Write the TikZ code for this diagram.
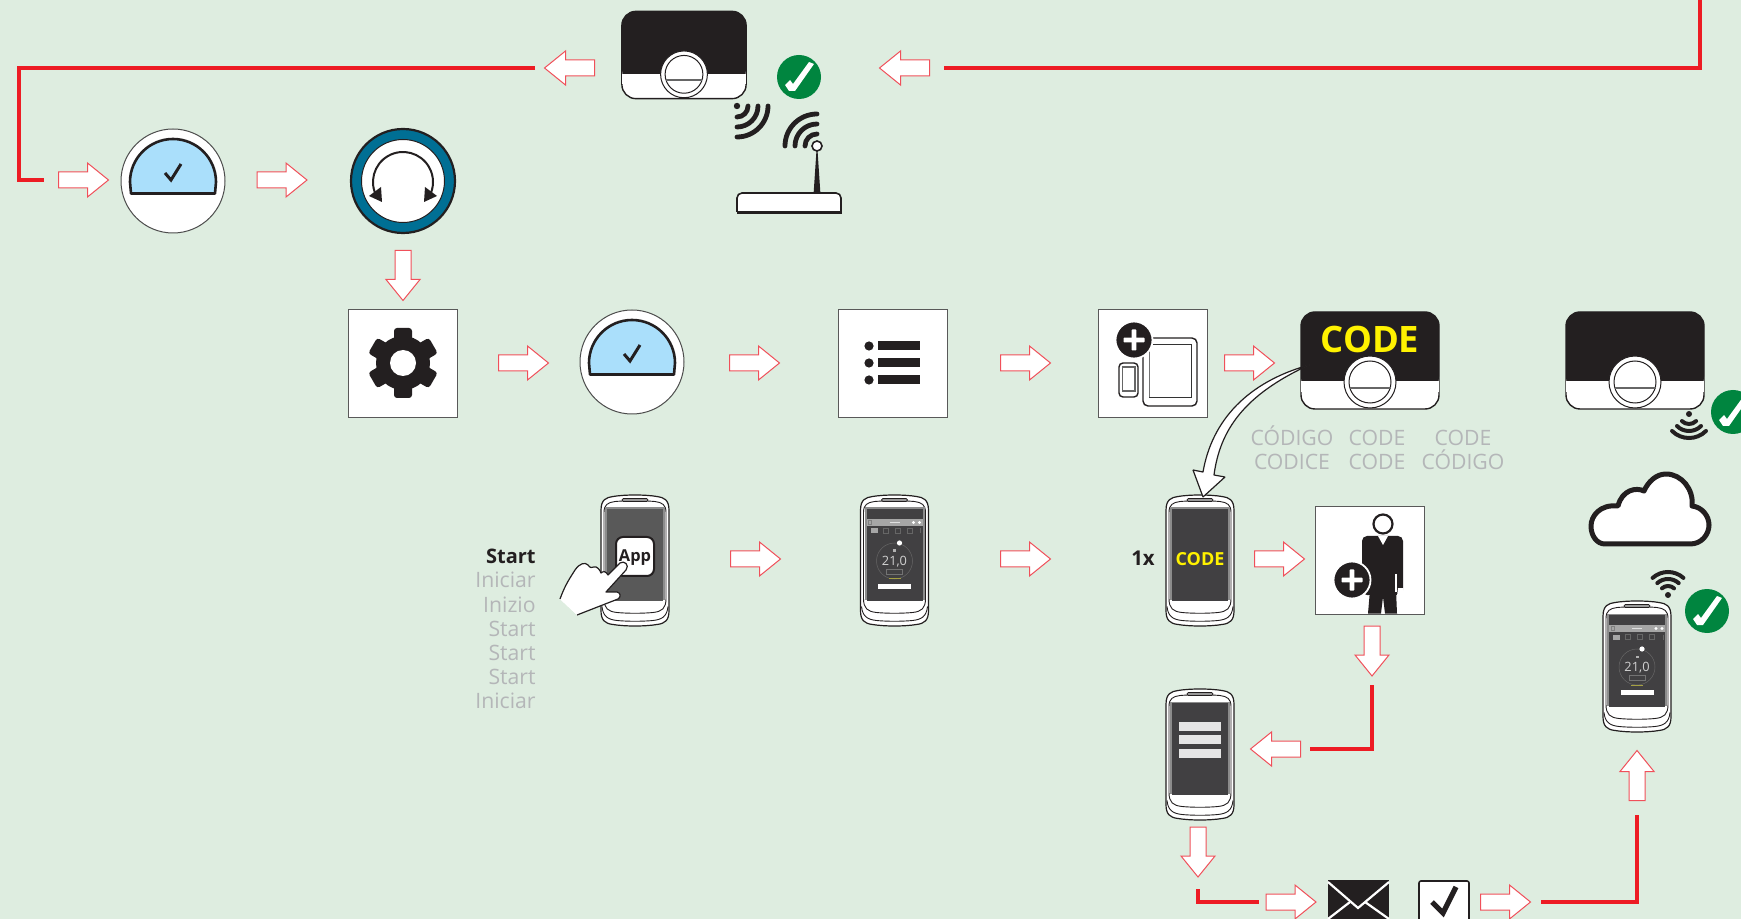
\documentclass[tikz,border=0pt]{standalone}
\usepackage{fontspec}
\setmainfont{Open Sans}
\definecolor{bgc}{HTML}{DEEDE0}
\definecolor{redl}{HTML}{ED1C24}
\definecolor{reda}{HTML}{F0505A}
\definecolor{ink}{HTML}{231F20}
\definecolor{greyt}{HTML}{B4B6B8}
\definecolor{dialb}{HTML}{AADFFB}
\definecolor{ringb}{HTML}{006F94}
\definecolor{okg}{HTML}{00853F}
\definecolor{scr}{HTML}{414042}
\definecolor{codey}{HTML}{FFF200}
\tikzset{
 redline/.style={draw=redl,line width=1.7pt},
 sq/.style={draw=black!65,fill=white,line width=0.45pt},
 wave/.style={draw=ink,line width=2.4pt,line cap=round},
 gtext/.style={text=greyt,font=\fontsize{10.6}{12}\selectfont,inner sep=0pt},
 pics/barrow/.style={code={
   \draw[draw=reda,fill=white,line width=0.5pt,line join=miter]
     (-25,-8) -- (4,-8) -- (4,-17) -- (25,0) -- (4,17) -- (4,8) -- (-25,8) -- cycle;}},
 pics/okmark/.style={code={
   \fill[okg] (0,0) circle[radius=22];
   \fill[white] (-14,8) -- (-9,3) -- (-6,7) -- (10,-15) -- (15,-13) -- (-4,14) -- (-10,14) -- cycle;}},
 pics/gauge/.style={code={
   \draw[fill=white,draw=black!70,line width=0.5pt] (0,0) circle[radius=52];
   \draw[fill=dialb,draw=ink,line width=1.3pt,line join=round]
     (-42,12.5) -- (-43,1) arc[start angle=180,end angle=360,radius=43] -- (42,12.5) -- cycle;
   \draw[ink,line width=1.5pt] (-8,-8) -- (-2,-1) -- (8,-17);}},
 pics/thermo/.style={code={
   \draw[fill=white,draw=ink,line width=0.7pt,rounded corners=7pt] (-69,-48.5) rectangle (69,48.5);
   \fill[ink,rounded corners=7pt] (-69,30) -- (-69,-48.5) -- (69,-48.5) -- (69,30) -- cycle;
   \fill[white] (-68.6,21) rectangle (68.6,32);
   \draw[fill=white,draw=ink,line width=0.5pt] (0,21.5) circle[radius=26];
   \draw[draw=ink,line width=0.5pt] (0,21.5) circle[radius=21];
   \draw[draw=black!60,line width=0.8pt] (-20.5,27.5) -- (20.5,27.5);}},
 pics/phonebody/.style={code={
   \draw[fill=white,draw=ink,line width=0.6pt]
     (-34,-50) .. controls (-34,-61) and (-29,-63) .. (-22,-64) .. controls (-10,-66) and (10,-66) .. (22,-64)
     .. controls (29,-63) and (34,-61) .. (34,-50) -- (34,50) .. controls (34,60) and (30,63) .. (22,64)
     .. controls (10,66) and (-10,66) .. (-22,64) .. controls (-30,63) and (-34,60) .. (-34,50) -- cycle;
   \draw[fill=white,draw=ink,line width=0.45pt]
     (-31,-48) .. controls (-31,-56) and (-27,-58) .. (-20,-59) .. controls (-8,-60) and (8,-60) .. (20,-59)
     .. controls (27,-58) and (31,-56) .. (31,-48) -- (31,38) .. controls (31,48) and (27,51) .. (18,52)
     .. controls (8,53) and (-8,53) .. (-18,52) .. controls (-27,51) and (-31,48) .. (-31,38) -- cycle;
   \draw[ink,line width=0.45pt] (-33,46) .. controls (-32,56) and (-27,59) .. (-18,60) .. controls (-8,61) and (8,61) .. (18,60)
     .. controls (27,59) and (32,56) .. (33,46);
   \draw[fill=black!40,draw=ink,line width=0.4pt,rounded corners=0.7pt] (-13,-62) rectangle (13,-59);
   \fill[black!45] (-30,-53) rectangle (30,39);
   \fill[scr] (-28,-51.5) rectangle (28,40.5);}},
 pics/appscreen/.style={code={
   \fill[black!35] (-28,-41.5) rectangle (28,-34.5);
   \draw[black!12,line width=0.3pt] (-5,-38) -- (5,-38);
   \fill[white] (19,-38) circle[radius=1.6] (25,-38) circle[radius=1.6];
   \draw[black!50,line width=0.25pt] (-26,-40) rectangle (-23,-36);
   \fill[black!35] (-24,-32) rectangle (-17,-27);
   \foreach \xx in {-9,3,15}{\draw[black!60,line width=0.25pt] (\xx-2.5,-32) rectangle (\xx+2.5,-27);}
   \draw[black!60,line width=0.25pt] (26,-32) -- (26,-27);
   \draw[black!60,line width=0.25pt] (0,0.5) circle[radius=18];
   \fill[white] (5,-17.5) circle[radius=2.6];
   \fill[black!30] (-1.5,-11) rectangle (1.5,-8.5);
   \node[inner sep=0pt,text=black!18,font=\fontsize{6.4}{7}\selectfont] at (0,1) {21,0};
   \draw[black!55,line width=0.25pt] (-8,9) rectangle (8,13.5);
   \draw[yellow!60!black,line width=0.5pt] (-6,18.5) -- (6,18.5);
   \fill[white] (-16.5,23.5) rectangle (16.5,28.5);}},
 pics/plusdisc/.style={code={
   \draw[fill=ink,draw=white,line width=0.9pt] (0,0) circle[radius=18.5];
   \fill[white,rounded corners=0.4pt] (-10.5,-2.4) rectangle (10.5,2.4);
   \fill[white,rounded corners=0.4pt] (-2.4,-10.5) rectangle (2.4,10.5);}},
}
\begin{document}
\begin{tikzpicture}[x=0.5pt,y=-0.5pt]
\useasboundingbox (0,0) rectangle (1741,919);
\clip (0,0) rectangle (1741,919);
\fill[bgc] (0,0) rectangle (1741,919);

% ---- red connector ends
\coordinate (a1) at (535,68); \coordinate (a2) at (19,68); \coordinate (a3) at (19,180); \coordinate (a4) at (44,180);
\coordinate (b1) at (944,68); \coordinate (b2) at (1700,68); \coordinate (b3) at (1700,0);
\coordinate (c1) at (1372,685); \coordinate (c2) at (1372,749); \coordinate (c3) at (1310,749);
\coordinate (d1) at (1198,889); \coordinate (d2) at (1198,902); \coordinate (d3) at (1259,902);
\coordinate (e1) at (1541,902); \coordinate (e2) at (1637,902); \coordinate (e3) at (1637,815);
\draw[redline] (a1) -- (a2) -- (a3) -- (a4);
\draw[redline] (b1) -- (b2) -- (b3);
\draw[redline] (c1) -- (c2) -- (c3);
\draw[redline] (d1) -- (d2) -- (d3);
\draw[redline] (e1) -- (e2) -- (e3);

% ---- block arrows
\pic[rotate=180] at (569.5,68) {barrow};
\pic[rotate=180] at (904.5,68) {barrow};
\pic at (83.5,180) {barrow};
\pic at (282,180) {barrow};
\pic[rotate=-90] at (403,275.5) {barrow};
\pic at (523.5,363) {barrow};
\pic at (754.5,363) {barrow};
\pic at (1025.5,363) {barrow};
\pic at (1249.5,363) {barrow};
\pic at (755.5,559) {barrow};
\pic at (1025.5,559) {barrow};
\pic at (1279.5,559) {barrow};
\pic[rotate=-90] at (1372,651) {barrow};
\pic[rotate=180] at (1275.5,749) {barrow};
\pic[rotate=-90] at (1198,852) {barrow};
\pic at (1291,902) {barrow};
\pic at (1505.5,902) {barrow};
\pic[rotate=90] at (1637,775.5) {barrow};

% ---- top thermostat, router
\pic[scale=0.9] at (684,55) {thermo};
\pic at (799,77) {okmark};
\fill[ink] (737,106) circle[radius=3.2];
\foreach \r in {11,21,31}{\draw[wave] (737,106) ++(0:\r) arc[start angle=0,end angle=90,radius=\r];}
\foreach \r in {12,22,32}{\draw[wave] (817,146) ++(180:\r) arc[start angle=180,end angle=270,radius=\r];}
\fill[ink] (813.5,195) -- (820.5,195) -- (817.5,150) -- (816.5,150) -- cycle;
\draw[fill=white,draw=ink,line width=0.8pt] (817,146) circle[radius=5];
\draw[fill=white,draw=ink,line width=0.8pt,rounded corners=2.5pt] (737,212) -- (737,193) -- (841,193) -- (841,212);
\draw[ink,line width=1.1pt] (736.5,212.5) -- (841.5,212.5);

% ---- gauges, dial, gear
\pic at (173,181) {gauge};
\draw[fill=ringb,draw=ink,line width=1.1pt] (403,181) circle[radius=52];
\draw[fill=white,draw=ink,line width=0.5pt] (403,181) circle[radius=41.5];
\draw[ink,line width=1pt] (403,182) ++(150:30) arc[start angle=150,end angle=390,radius=30];
\fill[ink] (369,196) -- (381,187) -- (382,202) -- cycle;
\fill[ink] (437,196) -- (425,187) -- (424,202) -- cycle;

\node[sq,minimum width=54.5pt,minimum height=54pt,inner sep=0pt] (gearbox) at (402.5,363) {};
\fill[ink] (403,363) circle[radius=27];
\foreach \a in {0,60,...,300}{\fill[ink,rounded corners=1.5pt,rotate around={\a:(403,363)}] (394,345) rectangle (412,328);}
\fill[white] (403,363) circle[radius=13];

\pic at (632,362) {gauge};

\node[sq,minimum width=54.5pt,minimum height=54pt,inner sep=0pt] (listbox) at (892.5,363) {};
\foreach \yy in {346,363,380}{
  \fill[ink] (869,\yy) circle[radius=4.6];
  \fill[ink] (878,\yy-4.5) rectangle (920,\yy+4.5);}

% ---- add device
\node[sq,minimum width=54.5pt,minimum height=54pt,inner sep=0pt] (addbox) at (1152.5,363) {};
\draw[ink,line width=0.7pt,rounded corners=2.5pt] (1143,338) rectangle (1197,406);
\draw[black!80,line width=0.5pt,fill=white] (1149,345) rectangle (1191,398);
\draw[black!55,line width=0.8pt] (1149.5,345.5) -- (1149.5,397.5);
\draw[ink,line width=0.7pt,rounded corners=2pt,fill=white] (1119,363) rectangle (1138,397);
\draw[black!60,line width=0.7pt] (1122.5,367) rectangle (1135,391);
\pic at (1134,340) {plusdisc};

% ---- CODE thermostat
\pic at (1370,360.5) {thermo};
\node[inner sep=0pt,anchor=base,text=codey,font=\fontsize{18.2}{20}\selectfont\bfseries] (codebig) at (1370,353) {CODE};
\node[gtext,anchor=base] (g1) at (1292,446) {CÓDIGO};
\node[gtext,anchor=base] (g2) at (1292,470) {CODICE};
\node[gtext,anchor=base] (g3) at (1377,446) {CODE};
\node[gtext,anchor=base] (g4) at (1377,470) {CODE};
\node[gtext,anchor=base] (g5) at (1463,446) {CODE};
\node[gtext,anchor=base] (g6) at (1463,470) {CÓDIGO};

% ---- phones
\pic at (635,560.5) {phonebody};
\fill[black!65] (607,509) rectangle (663,601);
\draw[fill=white,draw=ink,line width=1pt,rounded corners=3.5pt] (616,537) rectangle (654,576);
\node[inner sep=0pt,anchor=base,text=ink,font=\fontsize{8.2}{10}\selectfont\bfseries] (applabel) at (635,561) {App};
\fill[white] (560,599) -- (577,615) -- (590,590) -- (570,580) -- cycle;
\draw[fill=white,draw=ink,line width=0.6pt,line join=round]
  (560,599) .. controls (565,585) and (570,578) .. (575,570) .. controls (580,563) and (585,562) .. (588,565)
  .. controls (590,568) and (592,568) .. (594,567) .. controls (597,566) and (600,570) .. (601,573)
  .. controls (603,571) and (606,571) .. (608,575) -- (620,563) .. controls (624,560) and (630,565) .. (626,570)
  -- (606,592) -- (617,592) .. controls (621,593) and (621,597) .. (618,599) -- (577,615);
\fill[white] (561,599.5) -- (577,614) -- (585,605) -- (570,590) -- cycle;

\pic at (894.5,560.5) {phonebody};
\pic at (894.5,560.5) {appscreen};

\pic at (1200,560.5) {phonebody};
\node[inner sep=0pt,anchor=base,text=codey,font=\fontsize{9}{10}\selectfont\bfseries] (codesmall) at (1200,565.5) {CODE};
\node[inner sep=0pt,anchor=base,text=ink,font=\fontsize{10.2}{12}\selectfont\bfseries] (onex) at (1143,565.5) {1x};

\pic at (1200,754.5) {phonebody};
\foreach \yy in {722,735,749}{\fill[black!10] (1179,\yy) rectangle (1221,\yy+9);}

\pic at (1637,666.5) {phonebody};
\pic at (1637,666.5) {appscreen};

% ---- curved white arrow
\draw[fill=white,draw=ink,line width=0.6pt,line join=bevel]
  (1309,365) .. controls (1248,382) and (1212,420) .. (1203,472) -- (1193,470) -- (1203,497) -- (1225,477) -- (1214,475)
  .. controls (1220,430) and (1244,395) .. (1309,365) -- cycle;

% ---- start list
\node[inner sep=0pt,anchor=base east,text=ink,font=\fontsize{10}{12}\selectfont\bfseries] (s1) at (536,564) {Start};
\node[gtext,anchor=base east] (s2) at (536,588) {Iniciar};
\node[gtext,anchor=base east] (s3) at (536,612) {Inizio};
\node[gtext,anchor=base east] (s4) at (536,636) {Start};
\node[gtext,anchor=base east] (s5) at (536,660) {Start};
\node[gtext,anchor=base east] (s6) at (536,684) {Start};
\node[gtext,anchor=base east] (s7) at (536,708) {Iniciar};

% ---- person
\node[sq,minimum width=54.5pt,minimum height=54pt,inner sep=0pt] (personbox) at (1369.5,560) {};
\fill[ink,rounded corners=2.5pt] (1362,595) -- (1362,536) -- (1403,536) -- (1403,595) -- cycle;
\fill[ink] (1370,590) -- (1368,613.5) -- (1381,613.5) -- (1383,597) -- (1385,613.5) -- (1397,613.5) -- (1396,590) -- cycle;
\fill[white] (1378,536) -- (1388,536) -- (1383,545) -- cycle;
\draw[fill=white,draw=ink,line width=1.1pt] (1383,524) circle[radius=9.5];
\draw[white,line width=0.6pt] (1396,574) -- (1396,592);
\fill[white] (1398,588) -- (1403.5,588) -- (1403.5,596) -- (1397,596) -- cycle;
\pic at (1352,580) {plusdisc};

% ---- right thermostat, cloud, wifi
\pic at (1635,360.5) {thermo};
\fill[ink] (1689,414) circle[radius=3];
\foreach \r in {10,17,24}{\draw[ink,line width=2pt,line cap=round] (1689,414) ++(45:\r) arc[start angle=45,end angle=135,radius=\r];}
\pic at (1733,412) {okmark};
\draw[fill=white,draw=ink,line width=2.5pt,line join=round]
  (1605,544) -- (1690,544) .. controls (1702,544) and (1709,534) .. (1709,525) .. controls (1709,516) and (1702,507) .. (1692,506)
  .. controls (1694,490) and (1682,474) .. (1666,474) .. controls (1656,474) and (1648,482) .. (1644,491)
  .. controls (1636,487) and (1622,490) .. (1618,506) .. controls (1600,504) and (1591,516) .. (1591,526)
  .. controls (1591,536) and (1597,544) .. (1605,544) -- cycle;
\fill[ink] (1668,595) circle[radius=3];
\foreach \r in {9,16,23}{\draw[ink,line width=2pt,line cap=round] (1668,595) ++(228:\r) arc[start angle=228,end angle=312,radius=\r];}
\pic at (1707,611) {okmark};

% ---- envelope, checkbox
\fill[ink] (1328,880) rectangle (1389,930);
\draw[white,line width=1.1pt] (1328,882) -- (1358,908) -- (1389,882);
\draw[white,line width=1.1pt] (1328,919) -- (1350,902) (1365,902) -- (1389,919);
\draw[fill=white,draw=ink,line width=0.8pt,rounded corners=1pt] (1419,881) rectangle (1469,935);
\draw[ink,line width=2.6pt] (1432,902) -- (1443,913) -- (1456,887);
\end{tikzpicture}
\end{document}
